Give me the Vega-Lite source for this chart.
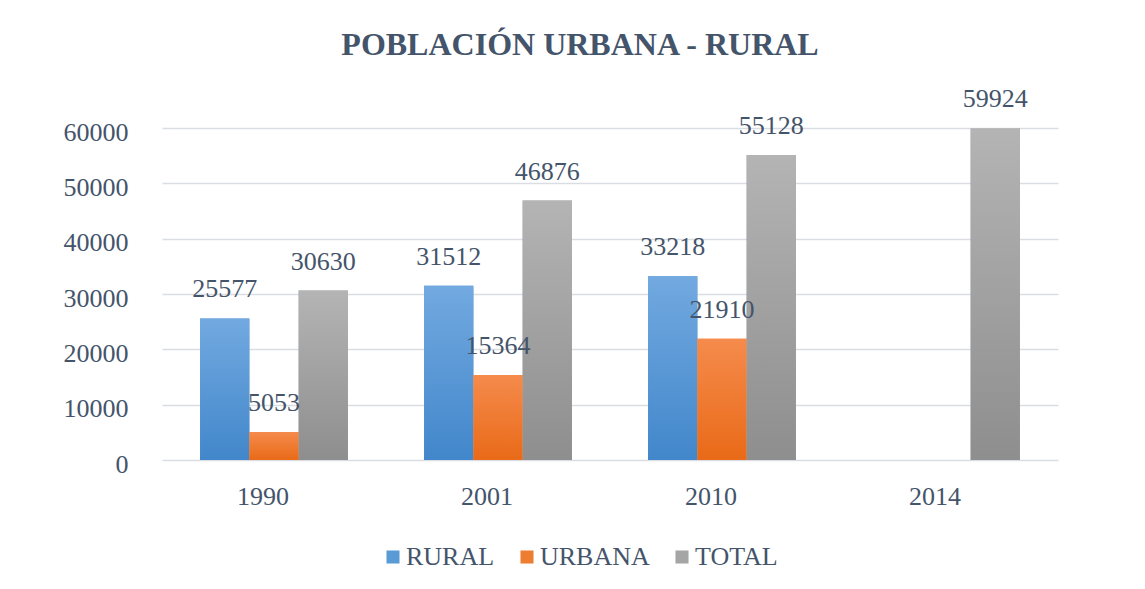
{
  "$schema": "https://vega.github.io/schema/vega-lite/v6.json",
  "width": 896,
  "height": 332,
  "autosize": {"type": "none"},
  "padding": {"left": 162, "top": 128, "right": 87, "bottom": 129},
  "background": "white",
  "config": {
    "font": "Liberation Serif",
    "view": {"stroke": null}
  },
  "title": {
    "text": "POBLACIÓN URBANA - RURAL",
    "font": "Liberation Serif",
    "fontSize": 32,
    "fontWeight": "bold",
    "color": "#44546A",
    "anchor": "middle",
    "offset": 24,
    "dx": -30
  },
  "data": {
    "values": [
      {"year": "1990", "serie": "RURAL", "valor": 25577},
      {"year": "1990", "serie": "URBANA", "valor": 5053},
      {"year": "1990", "serie": "TOTAL", "valor": 30630},
      {"year": "2001", "serie": "RURAL", "valor": 31512},
      {"year": "2001", "serie": "URBANA", "valor": 15364},
      {"year": "2001", "serie": "TOTAL", "valor": 46876},
      {"year": "2010", "serie": "RURAL", "valor": 33218},
      {"year": "2010", "serie": "URBANA", "valor": 21910},
      {"year": "2010", "serie": "TOTAL", "valor": 55128},
      {"year": "2014", "serie": "TOTAL", "valor": 59924}
    ]
  },
  "encoding": {
    "x": {
      "field": "year",
      "type": "nominal",
      "sort": ["1990", "2001", "2010", "2014"],
      "scale": {"paddingInner": 0.34, "paddingOuter": 0.17},
      "axis": {
        "title": null,
        "labelAngle": 0,
        "labelFont": "Liberation Serif",
        "labelFontSize": 26,
        "labelColor": "#44546A",
        "labelPadding": 23,
        "labelOffset": -11,
        "domain": false,
        "ticks": false
      }
    },
    "xOffset": {
      "field": "serie",
      "type": "nominal",
      "sort": ["RURAL", "URBANA", "TOTAL"],
      "scale": {"domain": ["RURAL", "URBANA", "TOTAL"], "paddingInner": 0, "paddingOuter": 0}
    },
    "y": {
      "field": "valor",
      "type": "quantitative",
      "scale": {"domain": [0, 60000], "nice": false},
      "axis": {
        "title": null,
        "values": [0, 10000, 20000, 30000, 40000, 50000, 60000],
        "format": "d",
        "labelFont": "Liberation Serif",
        "labelFontSize": 26,
        "labelColor": "#44546A",
        "labelPadding": 34,
        "labelOffset": 4,
        "domain": false,
        "ticks": false,
        "gridColor": "#DADDE2",
        "gridWidth": 1.5
      }
    }
  },
  "layer": [
    {
      "mark": {"type": "bar"},
      "encoding": {
        "color": {
          "field": "serie",
          "type": "nominal",
          "sort": ["RURAL", "URBANA", "TOTAL"],
          "scale": {"domain": ["RURAL", "URBANA", "TOTAL"], "range": ["#5B9BD5", "#ED7D31", "#A5A5A5"]},
          "legend": {
            "title": null,
            "orient": "none",
            "direction": "horizontal",
            "legendX": 218,
            "legendY": 416,
            "padding": 0,
            "symbolType": "square",
            "symbolSize": 170,
            "symbolStrokeWidth": 0,
            "labelFont": "Liberation Serif",
            "labelFontSize": 26,
            "labelColor": "#44546A",
            "columnPadding": 19,
            "labelOffset": 0
          }
        }
      }
    },
    {
      "mark": {"type": "bar"},
      "encoding": {
        "color": {
          "condition": [
            {"test": "datum.serie === 'RURAL'", "value": {"gradient": "linear", "x1": 0, "y1": 0, "x2": 0, "y2": 1, "stops": [{"offset": 0, "color": "#72A9E0"}, {"offset": 1, "color": "#4287CB"}]}},
            {"test": "datum.serie === 'URBANA'", "value": {"gradient": "linear", "x1": 0, "y1": 0, "x2": 0, "y2": 1, "stops": [{"offset": 0, "color": "#F58B4C"}, {"offset": 1, "color": "#E96A18"}]}}
          ],
          "value": {"gradient": "linear", "x1": 0, "y1": 0, "x2": 0, "y2": 1, "stops": [{"offset": 0, "color": "#B4B4B4"}, {"offset": 1, "color": "#8E8E8E"}]}
        }
      }
    },
    {
      "mark": {"type": "text", "baseline": "bottom", "dy": -16, "fontSize": 26, "font": "Liberation Serif", "color": "#44546A"},
      "encoding": {
        "text": {"field": "valor", "type": "quantitative", "format": "d"}
      }
    }
  ]
}
